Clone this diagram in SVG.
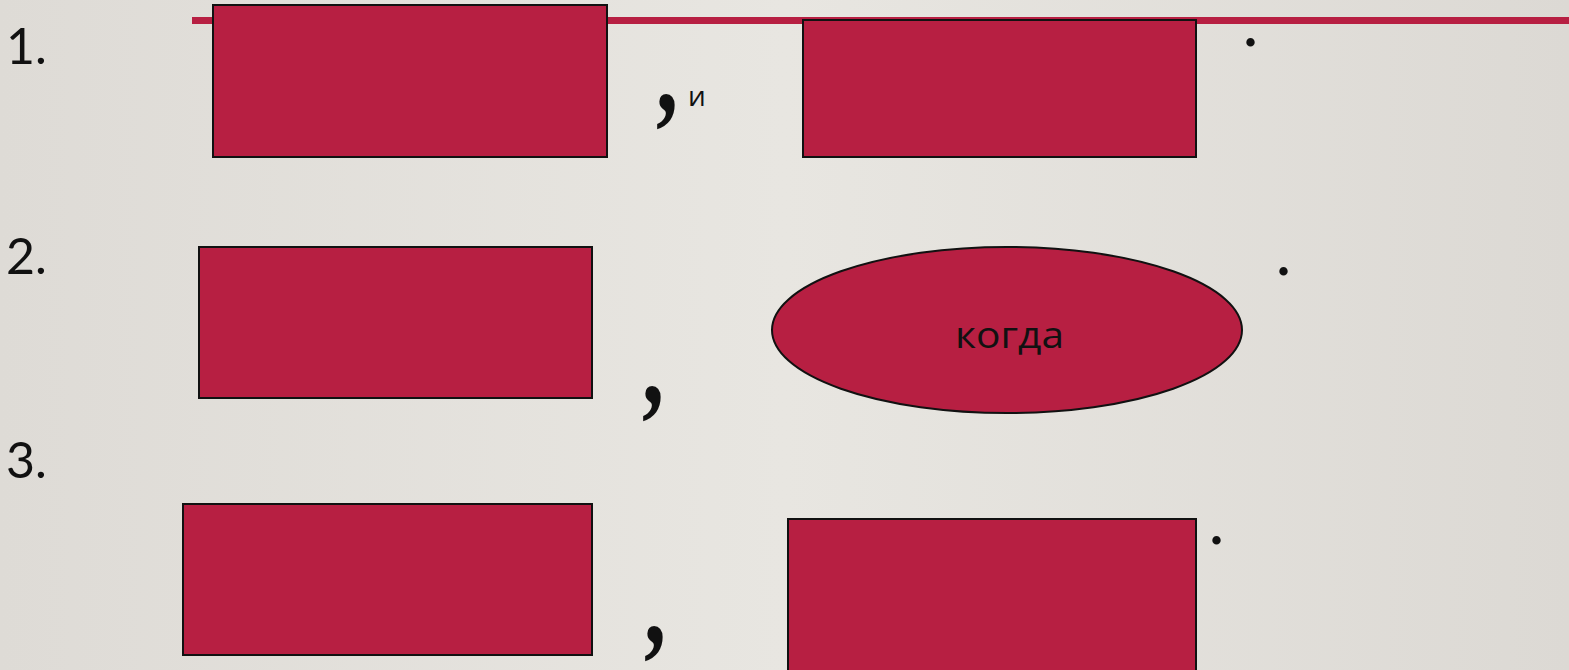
<svg xmlns="http://www.w3.org/2000/svg" width="1569" height="670" viewBox="0 0 1569 670">
<defs>
<linearGradient id="bg" x1="0" y1="0" x2="1" y2="0">
<stop offset="0" stop-color="#dedbd6"/>
<stop offset="0.5" stop-color="#e8e6e1"/>
<stop offset="1" stop-color="#dcd9d4"/>
</linearGradient>
</defs>
<style>
.box{fill:#b71f42;stroke:#111;stroke-width:2}
.num{font-family:Lato,"Open Sans","Liberation Sans",sans-serif;font-size:50px;fill:#111}
.comma{font-family:"Liberation Serif",serif;font-weight:bold;font-size:110px;fill:#111}
.dot{font-family:"Liberation Serif",serif;font-weight:bold;font-size:52px;fill:#111}
.lbl{font-family:"Open Sans","Liberation Sans",sans-serif;font-size:36px;fill:#111}
.conj{font-family:"Open Sans","Liberation Sans",sans-serif;font-size:28px;fill:#111}
</style>
<rect x="0" y="0" width="1569" height="670" fill="url(#bg)"/>
<rect x="192" y="17" width="1377" height="7" fill="#b71f42"/>
<g id="labels">
<text class="num" x="6" y="64">1.</text>
<text class="num" x="6" y="274">2.</text>
<text class="num" x="6" y="478">3.</text>
</g>
<g id="row1">
<g id="box1a"><rect class="box" x="213" y="5" width="394" height="152"/></g>
<text class="comma" transform="translate(656,111) scale(0.8,1.05)">,</text>
<text class="conj" x="688" y="106">и</text>
<g id="box1b"><rect class="box" x="803" y="20" width="393" height="137"/></g>
<text class="dot" x="1244" y="46">.</text>
</g>
<g id="row2">
<g id="box2a"><rect class="box" x="199" y="247" width="393" height="151"/></g>
<text class="comma" transform="translate(642,403) scale(0.8,1.05)">,</text>
<g id="when"><ellipse class="box" cx="1007" cy="330" rx="235" ry="83"/>
<text class="lbl" x="955" y="348" textLength="109" lengthAdjust="spacingAndGlyphs">когда</text></g>
<text class="dot" x="1277" y="275">.</text>
</g>
<g id="row3">
<g id="box3a"><rect class="box" x="183" y="504" width="409" height="151"/></g>
<text class="comma" transform="translate(644,643) scale(0.8,1.05)">,</text>
<g id="box3b"><rect class="box" x="788" y="519" width="408" height="152"/></g>
<text class="dot" x="1210" y="544">.</text>
</g>
<g id="connectors"></g>
</svg>
